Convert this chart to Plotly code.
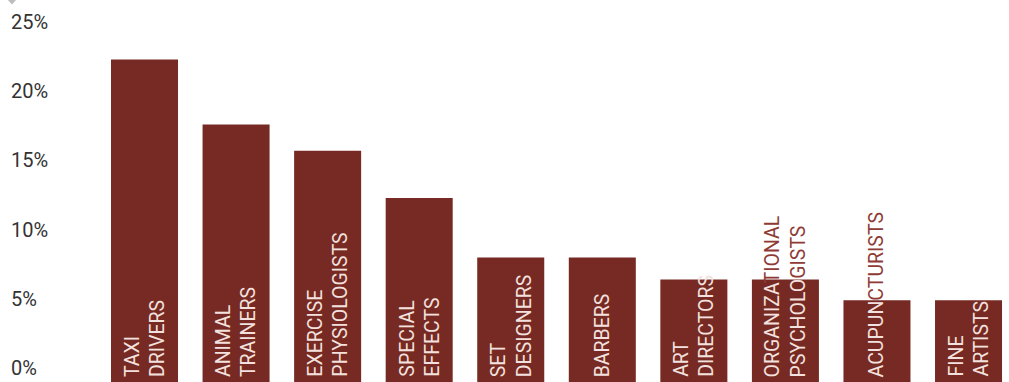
import plotly.graph_objects as go

# ---- data ----
categories = ["TAXI DRIVERS", "ANIMAL TRAINERS", "EXERCISE PHYSIOLOGISTS", "SPECIAL EFFECTS",
              "SET DESIGNERS", "BARBERS", "ART DIRECTORS", "ORGANIZATIONAL PSYCHOLOGISTS",
              "ACUPUNCTURISTS", "FINE ARTISTS"]
label_lines = [["TAXI", "DRIVERS"], ["ANIMAL", "TRAINERS"], ["EXERCISE", "PHYSIOLOGISTS"],
               ["SPECIAL", "EFFECTS"], ["SET", "DESIGNERS"], ["BARBERS"], ["ART", "DIRECTORS"],
               ["ORGANIZATIONAL", "PSYCHOLOGISTS"], ["ACUPUNCTURISTS"], ["FINE", "ARTISTS"]]
values = [23.3, 18.6, 16.7, 13.3, 9.0, 9.0, 7.4, 7.4, 5.9, 5.9]
tick_vals = [0, 5, 10, 15, 20, 25]
tick_text = ["0%", "5%", "10%", "15%", "20%", "25%"]

# ---- style ----
W, H = 1009, 382
BAR = "#772a23"
IN_TXT = "#f3e1df"
OUT_TXT = "#8e3b35"
FS = 19.5
Y_MAX = 27.6
L_MARGIN = 8
x_range = [-1.491, 9.442]
TEXT_LIFT = 3

px_per_unit = H / Y_MAX
# approximate Roboto advance widths (em) for splitting label colour at the bar top
EM = {"A": .652, "B": .623, "C": .637, "D": .641, "E": .556, "F": .540, "G": .666, "H": .696,
      "I": .272, "L": .527, "M": .852, "N": .696, "O": .673, "P": .631, "R": .616, "S": .594,
      "T": .597, "U": .633, "V": .636, "X": .626, "Y": .600, "Z": .598}


def colored(line, val):
    avail = val * px_per_unit - TEXT_LIFT - 1
    pos = 0.0
    for k, ch in enumerate(line):
        w = EM.get(ch, 0.6) * FS
        if pos + w / 2 > avail:
            return line[:k] + f"<span style='color:{OUT_TXT}'>" + line[k:] + "</span>"
        pos += w
    return line


fig = go.Figure()
fig.add_trace(go.Bar(x=list(range(len(categories))), y=values, marker_color=BAR,
                     marker_line_width=0, hovertext=categories, hoverinfo="text+y"))

for i, (lines, v) in enumerate(zip(label_lines, values)):
    txt = "<br>".join(colored(l, v) for l in lines)
    fig.add_annotation(x=i, y=0, xref="x", yref="y", text=txt, textangle=-90,
                       xanchor="center", yanchor="bottom", yshift=TEXT_LIFT,
                       showarrow=False, align="left",
                       font=dict(family="Roboto", size=FS, color=IN_TXT))

# small grey marker at the top-left corner
fig.add_shape(type="path", xref="paper", yref="paper",
              path="M -0.0001 1 L 0.008 1 L 0.004 0.988 Z",
              fillcolor="#bdbdbd", line_width=0)

fig.update_layout(
    width=W, height=H,
    margin=dict(l=L_MARGIN, r=0, t=0, b=0),
    paper_bgcolor="white", plot_bgcolor="white",
    bargap=0.268, showlegend=False,
    xaxis=dict(range=x_range, showticklabels=False, showgrid=False, zeroline=False,
               showline=False, ticks=""),
    yaxis=dict(range=[0, Y_MAX], tickvals=tick_vals, ticktext=tick_text,
               ticklabelposition="inside top", showgrid=False, zeroline=False,
               showline=False, ticks="",
               tickfont=dict(family="Roboto", size=20, color="#333333")),
)

fig.write_html("out.html", config={"displayModeBar": False},
               post_script="document.body.style.margin='0';document.body.style.overflow='hidden';")
